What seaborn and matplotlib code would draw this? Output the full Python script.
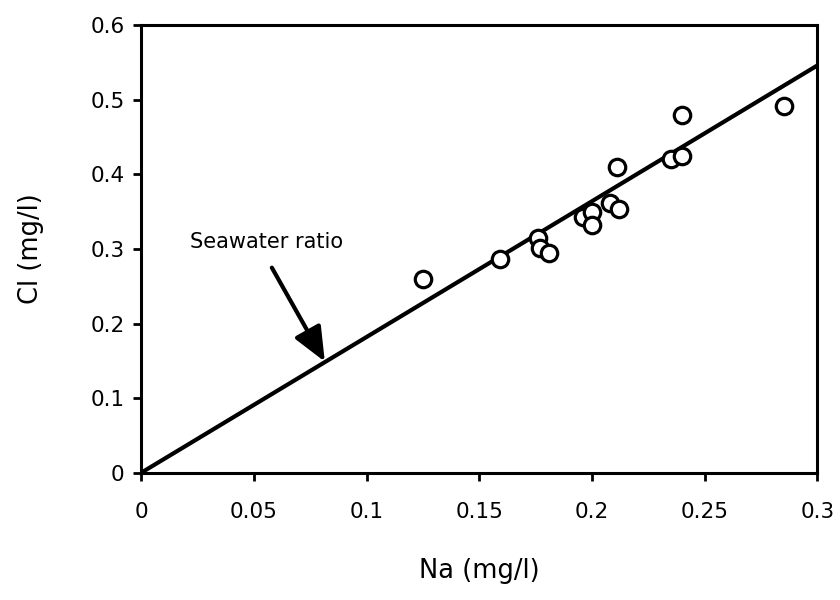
import matplotlib
matplotlib.use("Agg")
import matplotlib.pyplot as plt
import seaborn as sns
import pandas as pd

# Data
na = [0.125, 0.159, 0.176, 0.177, 0.181, 0.196, 0.200, 0.200, 0.208, 0.212,
      0.211, 0.235, 0.240, 0.240, 0.285]
cl = [0.260, 0.286, 0.315, 0.302, 0.294, 0.343, 0.349, 0.332, 0.362, 0.354,
      0.410, 0.421, 0.425, 0.479, 0.492]
line_na = [0.0, 0.3]
line_cl = [0.0, 0.546]
x_ticks = [0, 0.05, 0.1, 0.15, 0.2, 0.25, 0.3]
x_ticklabels = ["0", "0.05", "0.1", "0.15", "0.2", "0.25", "0.3"]
y_ticks = [0, 0.1, 0.2, 0.3, 0.4, 0.5, 0.6]
y_ticklabels = ["0", "0.1", "0.2", "0.3", "0.4", "0.5", "0.6"]
annot_text = "Seawater ratio"

sns.set_style("ticks")
plt.rcParams['font.family'] = ['DejaVu Sans']
plt.rcParams['text.color'] = 'black'
plt.rcParams['axes.labelcolor'] = 'black'

fig = plt.figure(figsize=(8.4, 6.0), dpi=100)
ax = fig.add_axes([0.168, 0.212, 0.805, 0.746])

pts = pd.DataFrame({"Na": na, "Cl": cl})
ln = pd.DataFrame({"Na": line_na, "Cl": line_cl})

sns.lineplot(data=ln, x="Na", y="Cl", ax=ax, color="black", linewidth=3.0)
sns.scatterplot(data=pts, x="Na", y="Cl", ax=ax, s=140, marker="o",
                facecolor="white", edgecolor="black", linewidth=2.3, zorder=3)

ax.set_xlim(0, 0.3)
ax.set_ylim(0, 0.6)
ax.set_xticks(x_ticks)
ax.set_xticklabels(x_ticklabels)
ax.set_yticks(y_ticks)
ax.set_yticklabels(y_ticklabels)

for s in ax.spines.values():
    s.set_visible(True)
    s.set_linewidth(2.2)
    s.set_color("black")

ax.tick_params(axis="both", direction="out", length=6, width=2.0,
               labelsize=15.5, colors="black")
ax.tick_params(axis="x", pad=15)
ax.tick_params(axis="y", pad=6)

ax.set_xlabel("Na (mg/l)", fontsize=18.5, labelpad=26, color="black")
ax.set_ylabel("Cl (mg/l)", fontsize=18.5, labelpad=33, color="black")

ax.text(0.0215, 0.31, annot_text, fontsize=15, ha="left", va="center",
        color="black")
ax.annotate("", xy=(0.0815, 0.149), xytext=(0.058, 0.275),
            arrowprops=dict(arrowstyle="-|>,head_length=0.7,head_width=0.3",
                            lw=3, color="black",
                            mutation_scale=30, shrinkA=0, shrinkB=0))

fig.savefig("out.png", dpi=100)
